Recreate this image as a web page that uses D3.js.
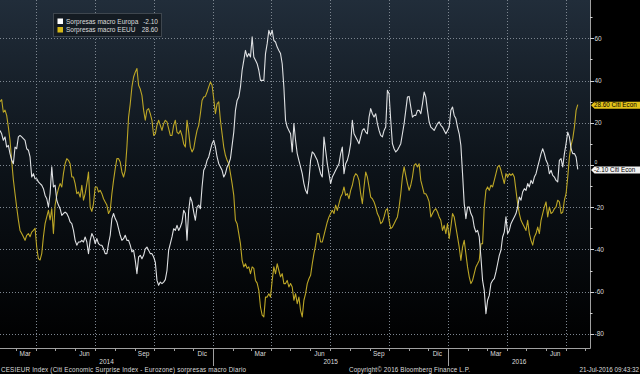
<!DOCTYPE html>
<html>
<head>
<meta charset="utf-8">
<script src="https://cdn.jsdelivr.net/npm/d3@7"></script>
<style>
  body { margin: 0; background: #000; }
  svg { display: block; }
  text { font-family: "Liberation Sans", Arial, sans-serif; }
</style>
</head>
<body>
<svg id="chart"></svg>
<script>
// Datos (muestreo regular entre la primera y la última fecha)
const firstDay = "2014-02-04";
const lastDay = "2016-07-20";
const windowStart = "2014-02-04";
const windowEnd = "2016-08-08";

// Sorpresas macro Europa (CESIEUR)
const europa = [
  16.4,14.8,11.7,13.3,8.5,9.3,5.4,2.2,0.6,8.5,7.7,13.3,14,13.3,12.5,11.7,7.7,7,3.8,-5.7,
  -4.1,-6.5,-6.5,-8,-8.8,-9.6,-11.2,-14.4,-16,-19.9,-13.6,-0.9,-10.4,-9.6,-16.7,-19,-20.7,-23.9,-23,-22.3,
  -23,-24.6,-27,-27.8,-31,-35.7,-38,-36.5,-36.5,-35.7,-36.5,-34.1,-36.5,-42,-35.7,-32.5,-34.1,-37.3,-34.9,-37.3,
  -38,-38,-39.7,-42,-42,-37.3,-33.3,-25.4,-23,-25.4,-27,-30.2,-33.3,-35.7,-34.9,-33.3,-35.7,-35.7,-38,-41.2,
  -40.4,-45.2,-51.5,-43.6,-42.8,-44.4,-42.8,
  -39.7,-38.9,-40.4,-42,-42,-43.6,-46,-54.7,-57,-55.5,-56.2,-55.5,-54.3,-50,-40.4,-37.3,-34.1,-30.2,-31,-28.6,
  -31,-29.4,-27,-21.5,-23,-35.7,-21.5,-15.2,-17.5,-22.3,-26.2,-19.9,-19,-20.7,-10.4,-2.5,-0.9,2.2,3.8,7,
  10.1,11.7,8.5,3.8,0.6,-0.9,-2.5,-5.7,-4.1,-0.9,0.6,3,9.3,15.6,25.9,30.6,32.2,37,44.9,49.6,
  54.3,51.2,52.8,51.2,60.7,51.2,49.6,48,44.9,40.1,40.1,40.1,52.8,57.5,63.8,61.5,63.8,59,58.3,55.9,
  54.3,52.8,48,37,21.2,18,16.4,
  14.8,6.2,19.6,11.7,5.4,2.2,-0.9,-4.1,-8.8,-12,-13.6,-7.3,2.2,6.2,5.4,3.8,2.2,-0.9,-4.1,-5.7,
  13.3,7,0.6,-4.1,-8.8,-5.7,-4.1,-2.5,-0.9,0.6,5.4,8.5,-4.1,0.6,2.2,5.4,10.1,21.2,14.8,13.3,
  11.7,10.1,13.3,16.4,17.2,15.6,14.8,22.7,26.7,24.3,22.7,24.3,19.6,16.4,14,13.3,16.4,18,35.4,33.8,
  21.2,10.1,7.7,6.2,7,8.5,10.1,14.8,19.6,25.9,32.2,32.5,27.5,22.7,23.5,23.5,25.9,25.9,24.3,29,
  34.6,32.2,25.9,20.4,18,17.2,16.4,
  18,19.6,20.4,18.8,18,16.4,14.8,16.4,18,25.9,27.5,23.5,22,18,14.8,9.3,-4.1,-18.3,-25.4,-19.9,
  -19.9,-23,-24.6,-29.4,-31.8,-31,-34.1,-43.6,-54.7,-59.4,-70.5,-64.1,-61.8,-56.2,-54.7,-53.9,-50.7,-46.8,-42.8,-40.4,
  -34.1,-31.8,-24.6,-32.5,-31,-27.8,-26.2,-24.6,-23,-19.9,-15.2,-16.7,-12.8,-11.2,-12,-8.8,-10.4,-7.3,-8.8,-5.7,
  -4.1,-0.9,2.2,5.4,7.7,5.4,2.2,0.6,-4.1,-2.5,-4.9,-5.7,-7.3,-8,2.2,3,-0.9,5.4,10.1,15.6,
  13.3,7.7,5.4,5.4,3.8,-2.1
];

// Sorpresas macro EEUU (CESIUSD)
const eeuu = [
  30,31,25,26,23.5,18,11.7,2,-7,-13.6,-20,-26,-31,-32.5,-34,-35.7,-33.3,-32.5,-34,-31.8,
  -31,-30,-39,-44.4,-45,-42,-34,-27.8,-24.6,-21.5,-26,-20.7,-32.5,-19,-14.4,-11.2,-8.8,-10.4,-4,0.6,
  3,2.2,0.6,-5.7,-5.7,-8.8,-13.6,-12.8,-15.2,-9.6,-16.7,-13.6,-8.8,-3.3,-20,-22,-18.3,-10.4,-10.4,-12.8,
  -12,-13.6,-16,-17.5,-19,-23,-21.5,-13.6,-7.3,-1.7,3,3,1.4,-3.3,-5.7,-2.5,8.5,22.7,29,37,
  41.7,44,45.7,37.8,36,33,26,
  21.2,26,26.7,24.3,21.2,14,14.8,18.8,21.2,18.8,16.4,19.6,21.2,20.4,17.2,14,14,18.8,21.2,15.6,
  14.8,16.4,14,10,8.5,21.2,15.6,8.5,6.2,7.7,12.5,16.4,18.8,24.3,30.6,32.2,32.5,34.6,37,39.3,
  37.8,31.4,24.3,29,29.9,21.2,14.8,8.5,4.6,2.2,0.6,-4,-8.8,-14.4,-26.2,-27.8,-32.5,-37.3,-45.2,-48.3,
  -46.8,-49,-48.3,-51.5,-48.3,-49,-54.7,-56,-59.4,-67.3,-71.2,-72,-62.6,-62.6,-61,-62.6,-54.7,-48.3,-51.5,-46.8,
  -50,-53,-51.5,-56.2,-56.2,-54.7,-57.8,
  -56.2,-57.8,-64.1,-61,-65.7,-62.6,-68.9,-72,-64.1,-61,-56.2,-53.9,-52.3,-46.8,-42,-38,-32.5,-32.5,-36.5,-36.5,
  -33.3,-30.2,-27,-24.6,-23,-21.5,-23,-19,-21.5,-18.3,-15.2,-13.6,-10.4,-14.4,-13.6,-16,-12,-9.6,-5.7,-4.1,
  -4.9,-7.3,-13.6,-18.3,-10.4,-3.3,-5.7,-10.4,-15.2,-16,-17.5,-19.9,-23,-24.6,-27.8,-27,-24.6,-21.5,-20.7,-26.2,
  -30.2,-29.4,-27.8,-26.2,-24.6,-19.9,-13.6,-5.7,-0.9,-4.9,-8.8,-12,-9.6,-5.7,-0.2,0.6,-0.9,0.6,-7.3,-10.4,
  -13.6,-13.6,-15.2,-17.5,-24.6,-23,-21.5,
  -20.7,-22.3,-24.6,-26.2,-31,-28.6,-32.5,-27.8,-34.9,-29.4,-23,-24.6,-29.4,-34.1,-38.9,-45.2,-38.9,-35.7,-42,-48.3,
  -53,-56.2,-54.7,-51.5,-48.3,-46.8,-45.2,-37.3,-37.3,-19.9,-12,-10.4,-12,-9.6,-10.4,-7.3,-4.1,-0.9,-0.2,-2.5,
  -5.7,-8.8,-4.1,-5.7,-4.1,-4.9,-4.1,-5.7,-12,-18.3,-23,-26.2,-27.8,-29.4,-31,-26.2,-32.5,-35.7,-38,-34.1,
  -32.5,-29.4,-32.5,-26.2,-23,-19.9,-17.5,-24.6,-19.9,-23,-22.3,-20.7,-19.9,-16.7,-17.5,-23,-22.3,-16.7,-13.6,-5.7,
  3.8,9.3,12.5,18,25.9,28.6
];

const yTicks = [60, 40, 20, 0, -20, -40, -60, -80];
const monthNames = ["Ene", "Feb", "Mar", "Abr", "May", "Jun", "Jul", "Ago", "Sep", "Oct", "Nov", "Dic"];
const yearLabels = ["2014", "2015", "2016"];
const legendNames = ["Sorpresas macro Europa", "Sorpresas macro EEUU"];
const lastLabels = ["-2.10", "28.60"];
const footerLeft = "CESIEUR Index (Citi Economic Surprise Index - Eurozone) sorpresas macro  Diario";
const footerMid = "Copyright\u00A9 2016 Bloomberg Finance L.P.";
const footerRight = "21-Jul-2016 09:43:32";

const W = 640, H = 374;
const plotW = 590, plotH = 348;
const white = "#dfe1e3", gold = "#bca626";
const axisColor = "#a0a0a0", tickColor = "#d0d0d0", gridColor = "#7d8690", labelColor = "#dcdcdc";

const parseDate = d3.timeParse("%Y-%m-%d");
const t0 = parseDate(firstDay).getTime(), t1 = parseDate(lastDay).getTime();
const dates = europa.map((d, i) => new Date(t0 + (t1 - t0) * i / (europa.length - 1)));

const x = d3.scaleTime()
  .domain([parseDate(windowStart), parseDate(windowEnd)])
  .range([0, plotW]);

const y = d3.scaleLinear()
  .domain([-80, 60])
  .range([333.8, 38.4]);

const svg = d3.select("#chart").attr("width", W).attr("height", H);

const defs = svg.append("defs");
const grad = defs.append("linearGradient").attr("id", "bg")
  .attr("x1", 0).attr("y1", 0).attr("x2", 0).attr("y2", 1);
grad.append("stop").attr("offset", "0%").attr("stop-color", "#212d3a");
grad.append("stop").attr("offset", "50%").attr("stop-color", "#0c1218");
grad.append("stop").attr("offset", "100%").attr("stop-color", "#000");
defs.append("clipPath").attr("id", "clip")
  .append("rect").attr("width", plotW).attr("height", plotH);

svg.append("rect").attr("width", W).attr("height", H).attr("fill", "#000");
svg.append("rect").attr("width", plotW).attr("height", plotH).attr("fill", "url(#bg)");

// rejilla
const [d0, d1] = x.domain();
const months = d3.timeMonths(d0, d1);

svg.append("g").selectAll("line")
  .data(yTicks)
  .enter().append("line")
  .attr("x1", 0).attr("x2", plotW)
  .attr("y1", d => Math.round(y(d)) + 0.5)
  .attr("y2", d => Math.round(y(d)) + 0.5)
  .attr("stroke", gridColor).attr("stroke-dasharray", "1,2");

svg.append("g").selectAll("line")
  .data(months.filter(d => d.getMonth() % 3 === 0))
  .enter().append("line")
  .attr("x1", d => Math.round(x(d)) + 0.5)
  .attr("x2", d => Math.round(x(d)) + 0.5)
  .attr("y1", 0).attr("y2", plotH)
  .attr("stroke", gridColor).attr("stroke-dasharray", "1,2");

// series
const line = d3.line()
  .x((d, i) => x(dates[i]))
  .y(d => y(d));

const lines = svg.append("g").attr("clip-path", "url(#clip)");
lines.append("path").datum(eeuu)
  .attr("d", line).attr("fill", "none")
  .attr("stroke", gold).attr("stroke-width", 1.1).attr("stroke-linejoin", "round");
lines.append("path").datum(europa)
  .attr("d", line).attr("fill", "none")
  .attr("stroke", white).attr("stroke-width", 1.1).attr("stroke-linejoin", "round");

// eje x
svg.append("line")
  .attr("x1", 0).attr("x2", plotW + 0.5)
  .attr("y1", plotH + 0.5).attr("y2", plotH + 0.5)
  .attr("stroke", axisColor);

svg.append("g").selectAll("line")
  .data(months)
  .enter().append("line")
  .attr("x1", d => Math.round(x(d)) + 0.5)
  .attr("x2", d => Math.round(x(d)) + 0.5)
  .attr("y1", plotH).attr("y2", plotH + 3)
  .attr("stroke", axisColor);

svg.append("g").selectAll("line")
  .data(d3.timeYears(d0, d1))
  .enter().append("line")
  .attr("x1", d => Math.round(x(d)) + 0.5)
  .attr("x2", d => Math.round(x(d)) + 0.5)
  .attr("y1", plotH).attr("y2", plotH + 18)
  .attr("stroke", axisColor);

svg.append("g").selectAll("text")
  .data(months.filter(d => d.getMonth() % 3 === 2))
  .enter().append("text")
  .attr("x", d => x(d3.timeDay.offset(d, 14)))
  .attr("y", 356)
  .attr("text-anchor", "middle")
  .attr("font-size", 6.5)
  .attr("fill", labelColor)
  .text(d => monthNames[d.getMonth()]);

svg.append("g").selectAll("text")
  .data(yearLabels)
  .enter().append("text")
  .attr("x", d => {
    const a = Math.max(x(new Date(+d, 0, 1)), 0);
    const b = Math.min(x(new Date(+d + 1, 0, 1)), plotW);
    return (a + b) / 2;
  })
  .attr("y", 364)
  .attr("text-anchor", "middle")
  .attr("font-size", 6.5)
  .attr("fill", labelColor)
  .text(d => d);

// eje y (derecha)
svg.append("line")
  .attr("x1", plotW + 0.5).attr("x2", plotW + 0.5)
  .attr("y1", 0).attr("y2", plotH + 0.5)
  .attr("stroke", axisColor);

svg.append("g").selectAll("line")
  .data(d3.range(-80, 71, 10))
  .enter().append("line")
  .attr("x1", plotW)
  .attr("x2", d => plotW + (d % 20 === 0 ? 4 : 2.5))
  .attr("y1", d => Math.round(y(d)) + 0.5)
  .attr("y2", d => Math.round(y(d)) + 0.5)
  .attr("stroke", tickColor);

// el 0 queda casi tapado por la etiqueta de Europa: se sube un poco
svg.append("g").selectAll("text")
  .data(yTicks)
  .enter().append("text")
  .attr("x", plotW + 4.5)
  .attr("y", d => y(d) + (d === 0 ? -1.2 : 2.4))
  .attr("font-size", d => d === 0 ? 5 : 6.5)
  .attr("fill", labelColor)
  .text(d => d);

// etiquetas del último valor
const tags = [
  { v: eeuu[eeuu.length - 1], label: lastLabels[1] + " Citi Econ", fill: "#e4c31a" },
  { v: europa[europa.length - 1], label: lastLabels[0] + " Citi Econ", fill: "#f2f2f2" }
];
const tag = svg.append("g").selectAll("g")
  .data(tags)
  .enter().append("g")
  .attr("transform", d => `translate(${plotW + 1},${y(d.v) + 0.5})`);
tag.append("path")
  .attr("d", "M0,0L3.5,-3.5H49V3.5H3.5Z")
  .attr("fill", d => d.fill);
tag.append("text")
  .attr("x", 3)
  .attr("y", 2.3)
  .attr("font-size", 6.3)
  .attr("fill", "#000")
  .text(d => d.label);

// leyenda
const legend = svg.append("g").attr("transform", "translate(53.5,13.5)");
legend.append("rect")
  .attr("width", 108).attr("height", 23)
  .attr("fill", "#141b22").attr("stroke", "#3e464e");
const rows = legend.selectAll("g.row")
  .data([{ name: legendNames[0], val: lastLabels[0], color: "#ffffff" },
         { name: legendNames[1], val: lastLabels[1], color: "#d6b917" }])
  .enter().append("g")
  .attr("class", "row")
  .attr("transform", (d, i) => `translate(0,${5 + i * 8.5})`);
rows.append("rect")
  .attr("x", 4).attr("y", 0)
  .attr("width", 5.5).attr("height", 5.5)
  .attr("fill", d => d.color);
rows.append("text")
  .attr("x", 12.5).attr("y", 5.2)
  .attr("font-size", 6.5).attr("fill", labelColor)
  .text(d => d.name);
rows.append("text")
  .attr("x", 104.5).attr("y", 5.2)
  .attr("text-anchor", "end")
  .attr("font-size", 6.5).attr("fill", labelColor)
  .text(d => d.val);

// pie
const foot = svg.append("g").attr("font-size", 6.3).attr("fill", labelColor);
foot.append("text").attr("x", 1).attr("y", 372).attr("textLength", 245).text(footerLeft);
foot.append("text").attr("x", 349).attr("y", 372).attr("textLength", 121).text(footerMid);
foot.append("text").attr("x", 639).attr("y", 372).attr("text-anchor", "end").text(footerRight);
</script>
</body>
</html>
